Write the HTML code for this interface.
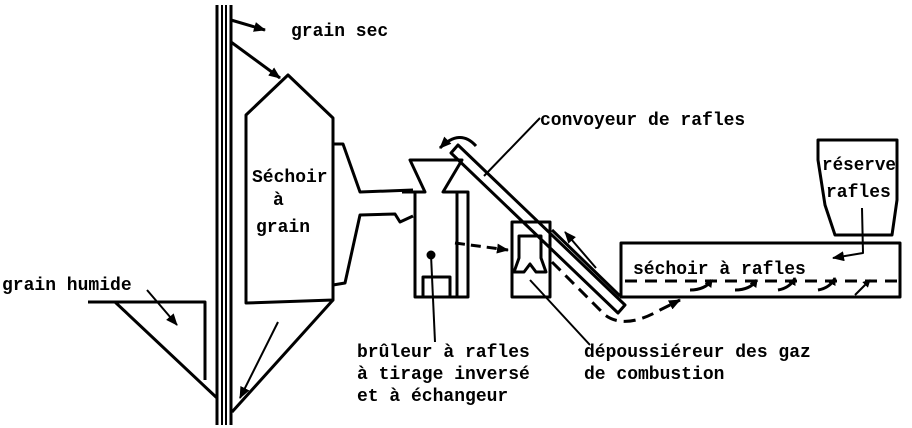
<!DOCTYPE html>
<html><head><meta charset="utf-8"><style>
html,body{margin:0;padding:0;background:#fff;}
svg{display:block}
text{font-family:"Liberation Mono",monospace;font-size:18px;fill:#000;font-weight:bold}
</style></head><body>
<svg width="912" height="428" viewBox="0 0 912 428" xmlns="http://www.w3.org/2000/svg">
<defs><marker id="a" markerWidth="8" markerHeight="8" refX="7" refY="4" orient="auto" markerUnits="userSpaceOnUse" viewBox="0 0 8 8"><path d="M0,0 L8,4 L0,8 z" fill="#000"/></marker>
<marker id="b" markerWidth="12" markerHeight="10" refX="11" refY="5" orient="auto" markerUnits="userSpaceOnUse" viewBox="0 0 12 10"><path d="M0,0 L12,5 L0,10 z" fill="#000"/></marker></defs>
<g fill="none" stroke="#000" stroke-width="3" stroke-linejoin="round">
<!-- elevator -->
<line x1="217" y1="5" x2="217" y2="425"/><line x1="231" y1="5" x2="231" y2="425"/>
<line x1="222" y1="5" x2="222" y2="425" stroke-width="2"/><line x1="226" y1="5" x2="226" y2="425" stroke-width="2"/>
<line x1="231" y1="20" x2="265" y2="30" marker-end="url(#b)"/>
<line x1="231" y1="42" x2="280" y2="78" marker-end="url(#b)"/>
<!-- silo -->
<path d="M246,115 L288,75 L333,118 L333,300 L246,303 Z"/>
<line x1="333" y1="300" x2="232" y2="412"/>
<line x1="278" y1="322" x2="240" y2="398" stroke-width="2" marker-end="url(#b)"/>
<!-- duct -->
<path d="M333,144 L343,144 L360,192 L413,190"/>
<path d="M333,285 L345,283 L360,215 L395,214 L400,222 L413,216"/>
<!-- wet hopper -->
<path d="M88,302 L205,302 L205,380"/>
<line x1="115" y1="302" x2="217" y2="398"/>
<line x1="147" y1="290" x2="177" y2="325" stroke-width="2" marker-end="url(#b)"/>
<!-- burner -->
<path d="M402,192 L425,192 L410,160 L462,160 L443,192 L468,192 L468,297 L415,297 L415,192"/>
<line x1="457" y1="192" x2="457" y2="297"/>
<rect x="423" y="277" width="27" height="20"/>
<circle cx="431" cy="255" r="3" fill="#000"/>
<line x1="431" y1="255" x2="435" y2="342" stroke-width="2"/>
<path d="M455,243 L508,250" stroke-dasharray="10,6" marker-end="url(#b)"/>
<!-- dust collector -->
<path d="M512,222 L550,222 L550,297 L512,297 Z"/>
<path d="M519,236 L541,236 L541,258 L546,272 L536,272 L530,264 L524,272 L514,272 L519,258 Z"/>
<line x1="530" y1="280" x2="590" y2="345" stroke-width="2"/>
<!-- conveyor -->
<path d="M458,145 L625,305 L618,313 L451,153 Z"/>
<line x1="552" y1="230" x2="620" y2="296"/>
<line x1="596" y1="268" x2="565" y2="232" stroke-width="2" marker-end="url(#b)"/>
<path d="M552,262 L605,315 Q625,330 660,310 L680,300" stroke-dasharray="12,7" marker-end="url(#b)"/>
<path d="M476,146 Q460,128 440,148" stroke-width="3" marker-end="url(#b)"/>
<line x1="540" y1="118" x2="484" y2="176" stroke-width="2"/>
<!-- séchoir rafles -->
<rect x="621" y="243" width="279" height="54"/>
<line x1="625" y1="281" x2="898" y2="281" stroke-dasharray="12,8"/>
<path d="M690,290 Q705,290 712,280" stroke-width="3" marker-end="url(#a)"/>
<path d="M735,290 Q750,290 757,280" stroke-width="3" marker-end="url(#a)"/>
<path d="M778,290 Q790,288 795,278" stroke-width="3" marker-end="url(#a)"/>
<path d="M818,290 Q830,288 835,278" stroke-width="3" marker-end="url(#a)"/>
<path d="M855,295 L870,280" stroke-width="2" marker-end="url(#a)"/>
<!-- réserve -->
<path d="M818,140 L897,140 L897,200 L892,235 L835,235 L825,205 L818,160 Z"/>
<path d="M862,208 L863,253 L833,258" stroke-width="2" marker-end="url(#b)"/>
</g>
<text x="291" y="36">grain sec</text>
<text x="252" y="182">Séchoir</text>
<text x="273" y="205">à</text>
<text x="256" y="232">grain</text>
<text x="540" y="125">convoyeur de rafles</text>
<text x="822" y="170" textLength="74" lengthAdjust="spacingAndGlyphs">réserve</text>
<text x="826" y="197">rafles</text>
<text x="633" y="274">séchoir à rafles</text>
<text x="2" y="290">grain humide</text>
<text x="357" y="357">brûleur à rafles</text>
<text x="357" y="379">à tirage inversé</text>
<text x="357" y="401">et à échangeur</text>
<text x="584" y="357">dépoussiéreur  des gaz</text>
<text x="584" y="379">de combustion</text>
</svg>
</body></html>
